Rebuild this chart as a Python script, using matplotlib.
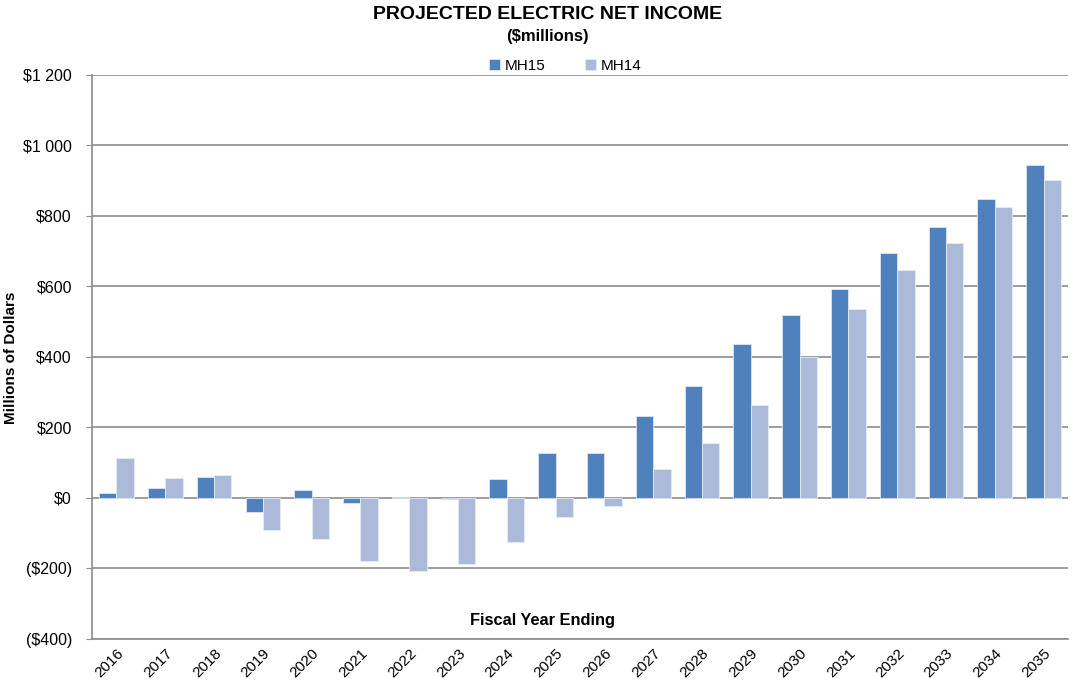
import numpy as np
import matplotlib.pyplot as plt

plt.rcParams['font.family'] = ['Liberation Sans', 'DejaVu Sans']

# Data ($ millions)
years = ['2016', '2017', '2018', '2019', '2020', '2021', '2022', '2023', '2024', '2025',
         '2026', '2027', '2028', '2029', '2030', '2031', '2032', '2033', '2034', '2035']
mh15 = [15, 28, 60, -41, 23, -13, 4, -3, 55, 129,
        129, 232, 318, 437, 519, 593, 694, 769, 847, 945]
mh14 = [114, 57, 64, -91, -115, -178, -206, -186, -124, -54,
        -23, 83, 157, 265, 400, 536, 646, 723, 825, 902]
yticks = [-400, -200, 0, 200, 400, 600, 800, 1000, 1200]
ytick_labels = ['($400)', '($200)', '$0', '$200', '$400', '$600', '$800', '$1 000', '$1 200']

c15 = '#4F81BD'
c14 = '#AABAD8'
grid_c = '#8C8C8C'

fig = plt.figure(figsize=(10.74, 6.81), dpi=100)
ax = fig.add_axes([0.0857, 0.0617, 0.9087, 0.8282])

x = np.arange(len(years))
w = 0.355
ax.bar(x - w / 2, mh15, w, color=c15, edgecolor='#DCE6F2', linewidth=0.6, label='MH15', zorder=3)
ax.bar(x + w / 2, mh14, w, color=c14, edgecolor='#E6ECF5', linewidth=0.6, label='MH14', zorder=3)

ax.set_xlim(-0.5, len(years) - 0.5)
ax.set_ylim(-400, 1200)
ax.set_yticks(yticks)
ax.set_yticklabels(ytick_labels, fontsize=11.5)
ax.yaxis.grid(True, color=grid_c, linewidth=1.2, zorder=0)
ax.set_axisbelow(True)

ax.set_xticks(x)
ax.set_xticklabels(years, rotation=45, ha='right', rotation_mode='anchor', fontsize=11)
ax.tick_params(axis='x', length=0, pad=5)
ax.tick_params(axis='y', length=4, color=grid_c, pad=10.5)

for s in ['top', 'right']:
    ax.spines[s].set_visible(False)
ax.spines['left'].set_color(grid_c)
ax.spines['left'].set_linewidth(1.2)
ax.spines['bottom'].set_color(grid_c)
ax.spines['bottom'].set_linewidth(1.2)

fig.text(0.0105, 0.474, 'Millions of Dollars', rotation=90, ha='center', va='center',
         fontsize=11, fontweight='bold')
ax.text(0.462, 0.032, 'Fiscal Year Ending', transform=ax.transAxes, ha='center', va='center',
        fontsize=11.8, fontweight='bold')

fig.text(0.51, 0.979, 'PROJECTED ELECTRIC NET INCOME', ha='center', va='center',
         fontsize=14, fontweight='bold')
fig.text(0.51, 0.947, '($millions)', ha='center', va='center', fontsize=12, fontweight='bold')

ax.legend(loc='center', bbox_to_anchor=(0.485, 1.016), ncol=2, frameon=False, fontsize=11,
          handlelength=0.7, handleheight=0.7, handletextpad=0.3, columnspacing=2.6)

fig.savefig('out.png', dpi=100)
